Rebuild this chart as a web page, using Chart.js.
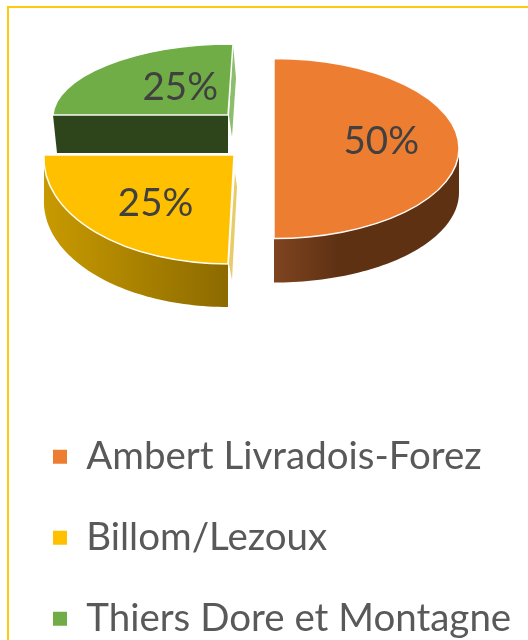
<!DOCTYPE html>
<html>
<head>
<meta charset="utf-8">
<style>
html,body{margin:0;padding:0;background:#fff;overflow:hidden;width:528px;height:640px}
#frame{position:absolute;left:7px;top:6px;width:700px;height:800px;border:2px solid #FFC90E;box-sizing:border-box}
canvas{position:absolute;left:0;top:0;filter:blur(0.6px)}
</style>
<script src="https://cdn.jsdelivr.net/npm/chart.js@4"></script>
</head>
<body>
<div id="frame"></div><canvas id="c" width="528" height="640"></canvas>
<script>
const categories = ["Ambert Livradois-Forez", "Billom/Lezoux", "Thiers Dore et Montagne"];
const shares = [50, 25, 25];
const sliceColors = ["#ED7D31", "#FFC000", "#70AD47"];

// Perspective placement of each slice of the 3D pie (style only, not data).
const placement = [
  {cx:274, cy:148.5, rx:185, ry:90,  skew:0,  depth:44, wall:["#7F4420","#5E3113"], wallStop:0.35, lx:0, ly:-7},
  {cx:234, cy:155,   rx:190, ry:109, skew:-6, depth:43, wall:["#C89A00","#8C6A00"], wallStop:1, lx:2, ly:4,
   sliver:[[1,18],[3,32],[-2,125],[-5,109]], sliverColor:"#E8CC6A"},
  {cx:228, cy:115,   rx:175, ry:71,  skew:-5, depth:38, cutColor:"#2E451C", cutShift:4, lx:22, ly:2,
   sliver:[[5,-71],[8,-37],[4,22],[1,1]], sliverColor:"#8DBE6E"}
];

const pie3d = {
  id: "pie3d",
  beforeDatasetsDraw(chart) {
    const ctx = chart.ctx;
    const arcs = chart.getDatasetMeta(0).data;
    const point = (p, a) => ({
      x: p.cx + p.rx * Math.cos(a) + p.skew * Math.sin(a),
      y: p.cy + p.ry * Math.sin(a)
    });
    const order = arcs.map((_, i) => i).reverse();
    order.forEach(i => {
      const el = arcs[i], p = placement[i];
      // side wall on the part of the rim that faces the viewer
      const a0 = Math.max(el.startAngle, 0), a1 = Math.min(el.endAngle, Math.PI);
      if (p.wall && a1 > a0) {
        const n = 60, top = [];
        for (let k = 0; k <= n; k++) top.push(point(p, a0 + (a1 - a0) * k / n));
        const xs = top.map(q => q.x);
        const xa = Math.min(...xs), xb = Math.max(...xs);
        const g = ctx.createLinearGradient(xa, 0, xb, 0);
        g.addColorStop(0, p.wall[0]);
        g.addColorStop(p.wallStop, p.wall[1]);
        g.addColorStop(1, p.wall[1]);
        ctx.beginPath();
        top.forEach((q, k) => k ? ctx.lineTo(q.x, q.y) : ctx.moveTo(q.x, q.y));
        top.slice().reverse().forEach(q => ctx.lineTo(q.x, q.y + p.depth));
        ctx.closePath();
        ctx.fillStyle = g;
        ctx.fill();
      }
      // flat cut face seen through the gap
      if (p.cutColor) {
        const e = point(p, el.startAngle);
        ctx.beginPath();
        ctx.moveTo(p.cx, p.cy);
        ctx.lineTo(e.x, e.y);
        ctx.lineTo(e.x + p.cutShift, e.y + p.depth);
        ctx.lineTo(p.cx, p.cy + p.depth);
        ctx.closePath();
        ctx.fillStyle = p.cutColor;
        ctx.fill();
      }
      // thin inner cut visible behind the straight edge
      if (p.sliver) {
        ctx.beginPath();
        p.sliver.forEach((q, k) => k ? ctx.lineTo(p.cx + q[0], p.cy + q[1]) : ctx.moveTo(p.cx + q[0], p.cy + q[1]));
        ctx.closePath();
        ctx.fillStyle = p.sliverColor;
        ctx.fill();
      }
      // top face: the library's arc under the perspective transform
      const R = el.outerRadius;
      const place = () => {
        ctx.translate(p.cx, p.cy);
        ctx.transform(p.rx / R, 0, p.skew / R, p.ry / R, 0, 0);
        ctx.translate(-el.x, -el.y);
      };
      ctx.save(); place(); el.draw(ctx); ctx.restore();
      ctx.save(); place();
      ctx.beginPath();
      ctx.moveTo(el.x, el.y);
      ctx.arc(el.x, el.y, R, el.startAngle, el.endAngle);
      ctx.closePath();
      ctx.restore();
      ctx.strokeStyle = "rgba(255,255,255,0.95)";
      ctx.lineWidth = 1.5;
      ctx.stroke();
    });
    // percentage labels
    const total = shares.reduce((a, b) => a + b, 0);
    ctx.font = "38.5px Lato";
    ctx.fillStyle = "#404040";
    ctx.textAlign = "center";
    ctx.textBaseline = "middle";
    arcs.forEach((el, i) => {
      const p = placement[i], m = (el.startAngle + el.endAngle) / 2, t = 0.58;
      const x = p.cx + t * (p.rx * Math.cos(m) + p.skew * Math.sin(m)) + p.lx;
      const y = p.cy + t * p.ry * Math.sin(m) + p.ly;
      ctx.fillText(Math.round(shares[i] / total * 100) + "%", x, y);
    });
    return false;
  }
};

new Chart(document.getElementById("c"), {
  type: "pie",
  data: {
    labels: categories,
    datasets: [{ data: shares, backgroundColor: sliceColors, borderWidth: 0 }]
  },
  options: {
    responsive: false,
    animation: false,
    layout: { padding: { left: 10.5, bottom: -8 } },
    plugins: {
      tooltip: { enabled: false },
      legend: {
        position: "bottom",
        align: "start",
        labels: {
          boxWidth: 14,
          boxHeight: 14,
          padding: 42.5,
          color: "#595959",
          font: { family: "Lato", size: 38.5 }
        }
      }
    }
  },
  plugins: [pie3d]
});
</script>
</body>
</html>
